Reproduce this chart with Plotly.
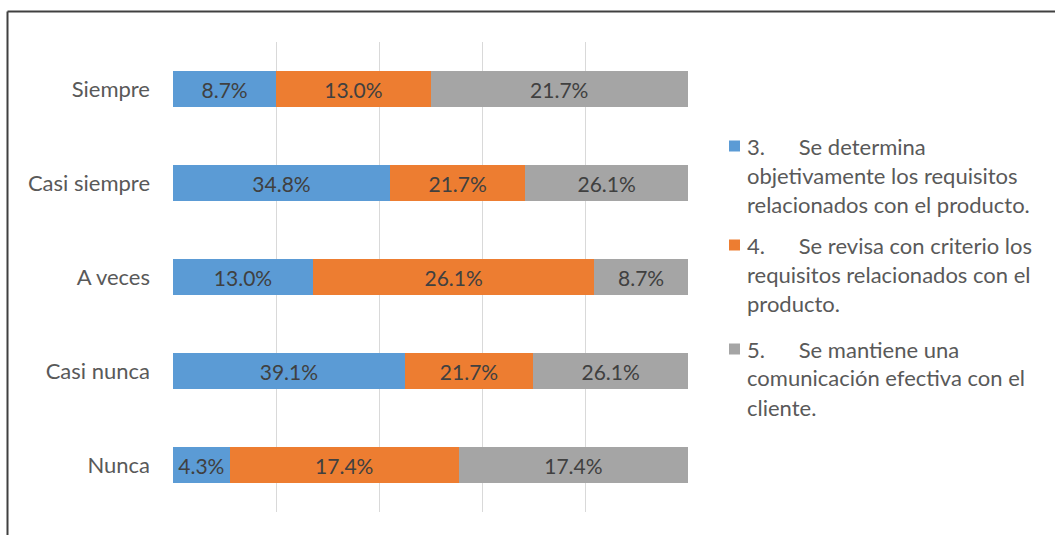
import plotly.graph_objects as go

# Frequency of answers (percent of respondents) per item
categories = ["Siempre", "Casi siempre", "A veces", "Casi nunca", "Nunca"]
item3 = [8.7, 34.8, 13.0, 39.1, 4.3]
item4 = [13.0, 21.7, 26.1, 21.7, 17.4]
item5 = [21.7, 26.1, 8.7, 26.1, 17.4]

GAP = "\u00a0" * 5 + " "
series_names = [
    ["3." + GAP + "Se determina",
     "objetivamente los requisitos",
     "relacionados con el producto."],
    ["4." + GAP + "Se revisa con criterio los",
     "requisitos relacionados con el",
     "producto."],
    ["5." + GAP + "Se mantiene una",
     "comunicación efectiva con el",
     "cliente."],
]
colors = ["#5B9BD5", "#ED7D31", "#A5A5A5"]

W, H = 1055, 535
L, R, T, B = 173, 367, 42, 23
PW, PH = W - L - R, H - T - B
FONT = "Lato"


def px_x(px):
    return (px - L) / PW


def px_y(py):
    return (H - B - py) / PH


fig = go.Figure()
for vals, name, col in zip([item3, item4, item5], series_names, colors):
    fig.add_trace(go.Bar(
        y=categories, x=vals, orientation="h", name=" ".join(name),
        marker=dict(color=col, line=dict(width=0)),
        text=[f"{v:.1f}%" for v in vals], textposition="inside",
        insidetextanchor="middle", constraintext="none",
        textfont=dict(family=FONT, size=21, color="#404040"),
        showlegend=False, hoverinfo="skip",
    ))

shapes = []
annotations = []
# key: colored square followed by wrapped description lines
key_tops = [146, 245, 349]
line_gap = 29
for top, lines, col in zip(key_tops, series_names, colors):
    shapes.append(dict(type="rect", xref="paper", yref="paper",
                       x0=px_x(729), x1=px_x(740), y0=px_y(top - 5.5), y1=px_y(top + 5.5),
                       fillcolor=col, line=dict(width=0)))
    for i, txt in enumerate(lines):
        annotations.append(dict(xref="paper", yref="paper", x=px_x(745),
                                y=px_y(top + i * line_gap), text=txt,
                                showarrow=False, xanchor="left", yanchor="middle",
                                font=dict(family=FONT, size=22, color="#595959")))

# outer frame (top and left edges visible)
shapes.append(dict(type="line", xref="paper", yref="paper",
                   x0=px_x(7.5), x1=px_x(1060), y0=px_y(11.5), y1=px_y(11.5),
                   line=dict(color="#404040", width=2)))
shapes.append(dict(type="line", xref="paper", yref="paper",
                   x0=px_x(7.5), x1=px_x(7.5), y0=px_y(11.5), y1=px_y(540),
                   line=dict(color="#404040", width=2)))

fig.update_layout(
    width=W, height=H,
    margin=dict(l=L, r=R, t=T, b=B, pad=0),
    barmode="stack", barnorm="percent", bargap=0.61,
    plot_bgcolor="white", paper_bgcolor="white",
    shapes=shapes, annotations=annotations,
    xaxis=dict(range=[0, 100], dtick=20, showgrid=True, gridcolor="#D9D9D9",
               gridwidth=1, showticklabels=False, zeroline=False, showline=False,
               fixedrange=True),
    yaxis=dict(categoryorder="array", categoryarray=categories[::-1],
               showgrid=False, showline=False, ticks="", ticklabelstandoff=22,
               tickfont=dict(family=FONT, size=22, color="#595959")),
    uniformtext=dict(mode=False),
)

fig.write_html("out.html")
